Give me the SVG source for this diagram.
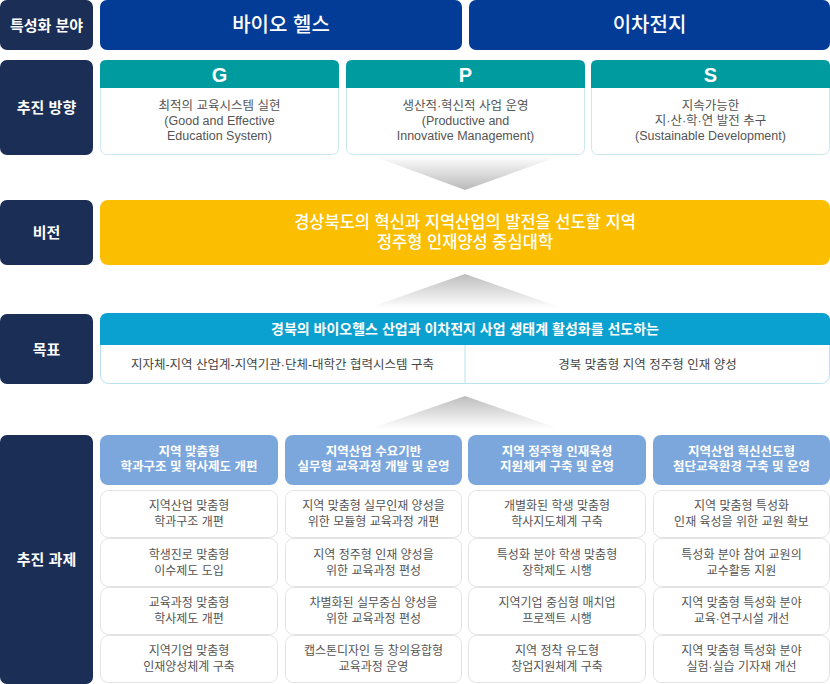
<svg xmlns="http://www.w3.org/2000/svg" width="830" height="684" viewBox="0 0 830 684">
<defs>
<style>
text{font-family:"Liberation Sans","Noto Sans CJK KR",sans-serif;text-anchor:middle;dominant-baseline:central}
.lab{fill:#1b2e56}
.labt{fill:#fff;font-size:15px;font-weight:700}
.band{fill:#023c96}
.bandt{fill:#fff;font-size:20px;font-weight:500}
.teal{fill:#009b9e}
.gbody{fill:#fff;stroke:#cbe9ed;stroke-width:1}
.lett{fill:#fff;font-size:20px;font-weight:700}
.body{fill:#555;font-size:12.5px}
.vis{fill:#fbbe00}
.vist{fill:#fff;font-size:16.5px;font-weight:500}
.goalh{fill:#0aa0cf}
.goalb{fill:#fff;stroke:#b9e1f0;stroke-width:1}
.goalht{fill:#fff;font-size:14px;font-weight:700}
.goalbt{fill:#444;font-size:12.5px}
.th{fill:#7ba7dd}
.tht{fill:#fff;font-size:12.5px;font-weight:700}
.cell{fill:#fff;stroke:#e3e3e3;stroke-width:1}
.ct{fill:#555;font-size:12px}
</style>
<linearGradient id="gDown" x1="0" y1="0" x2="0" y2="1">
<stop offset="0" stop-color="#ffffff"/>
<stop offset="1" stop-color="#b9b9b9"/>
</linearGradient>
<linearGradient id="gUp" x1="0" y1="0" x2="0" y2="1">
<stop offset="0" stop-color="#bdbdbd"/>
<stop offset="1" stop-color="#ffffff"/>
</linearGradient>
</defs>

<g id="connectors">
<polygon points="373,156 560,156 465,190" fill="url(#gDown)"/>
<polygon points="465,274 562,308 368,308" fill="url(#gUp)"/>
<polygon points="465,396 560,429 370,429" fill="url(#gUp)"/>
</g>

<g id="label-field">
<rect class="lab" x="0" y="0" width="93" height="50" rx="7"/>
<text class="labt" x="46.5" y="25">특성화 분야</text>
</g>
<g id="field-bio">
<rect class="band" x="100" y="0" width="362" height="50" rx="7"/>
<text class="bandt" x="281" y="25">바이오 헬스</text>
</g>
<g id="field-battery">
<rect class="band" x="469" y="0" width="361" height="50" rx="7"/>
<text class="bandt" x="649.5" y="25">이차전지</text>
</g>

<g id="label-direction">
<rect class="lab" x="0" y="60" width="93" height="95" rx="7"/>
<text class="labt" x="46.5" y="107.5">추진 방향</text>
</g>
<g id="dir-G">
<rect class="gbody" x="100.5" y="60.5" width="238" height="94" rx="6"/>
<path class="teal" d="M100,88 V66 Q100,60 106,60 H333 Q339,60 339,66 V88 Z"/>
<text class="lett" x="219.5" y="75">G</text>
<text class="body"><tspan x="219.5" y="106">최적의 교육시스템 실현</tspan><tspan x="219.5" y="121">(Good and Effective</tspan><tspan x="219.5" y="136">Education System)</tspan></text>
</g>
<g id="dir-P">
<rect class="gbody" x="346.5" y="60.5" width="238" height="94" rx="6"/>
<path class="teal" d="M346,88 V66 Q346,60 352,60 H579 Q585,60 585,66 V88 Z"/>
<text class="lett" x="465.5" y="75">P</text>
<text class="body"><tspan x="465.5" y="106">생산적·혁신적 사업 운영</tspan><tspan x="465.5" y="121">(Productive and</tspan><tspan x="465.5" y="136">Innovative Management)</tspan></text>
</g>
<g id="dir-S">
<rect class="gbody" x="591.5" y="60.5" width="238" height="94" rx="6"/>
<path class="teal" d="M591,88 V66 Q591,60 597,60 H824 Q830,60 830,66 V88 Z"/>
<text class="lett" x="710.5" y="75">S</text>
<text class="body"><tspan x="710.5" y="106">지속가능한</tspan><tspan x="710.5" y="121">지·산·학·연 발전 추구</tspan><tspan x="710.5" y="136">(Sustainable Development)</tspan></text>
</g>

<g id="label-vision">
<rect class="lab" x="0" y="200" width="93" height="65" rx="7"/>
<text class="labt" x="46.5" y="232.5">비전</text>
</g>
<g id="vision">
<rect class="vis" x="100" y="200" width="730" height="65" rx="8"/>
<text class="vist"><tspan x="465" y="222">경상북도의 혁신과 지역산업의 발전을 선도할 지역</tspan><tspan x="465" y="242">정주형 인재양성 중심대학</tspan></text>
</g>

<g id="label-goal">
<rect class="lab" x="0" y="314" width="93" height="70" rx="7"/>
<text class="labt" x="46.5" y="349">목표</text>
</g>
<g id="goal">
<rect class="goalb" x="100.5" y="313.5" width="729" height="70" rx="8"/>
<path class="goalh" d="M100,345 V321 Q100,313 108,313 H822 Q830,313 830,321 V345 Z"/>
<line x1="465" y1="345" x2="465" y2="384" stroke="#b9e1f0" stroke-width="1"/>
<text class="goalht" x="465" y="329">경북의 바이오헬스 산업과 이차전지 사업 생태계 활성화를 선도하는</text>
<text class="goalbt" x="282.5" y="365">지자체-지역 산업계-지역기관·단체-대학간 협력시스템 구축</text>
<text class="goalbt" x="647.5" y="365">경북 맞춤형 지역 정주형 인재 양성</text>
</g>

<g id="label-tasks">
<rect class="lab" x="0" y="435" width="93" height="249" rx="7"/>
<text class="labt" x="46.5" y="559.5">추진 과제</text>
</g>

<g id="task-1">
<rect class="th" x="100" y="435" width="178" height="50" rx="8"/>
<text class="tht"><tspan x="189" y="452">지역 맞춤형</tspan><tspan x="189" y="467">학과구조 및 학사제도 개편</tspan></text>
<rect class="cell" x="100.5" y="490.5" width="177" height="47" rx="8"/>
<text class="ct"><tspan x="189" y="506">지역산업 맞춤형</tspan><tspan x="189" y="522">학과구조 개편</tspan></text>
<rect class="cell" x="100.5" y="538.5" width="177" height="48" rx="8"/>
<text class="ct"><tspan x="189" y="555">학생진로 맞춤형</tspan><tspan x="189" y="571">이수제도 도입</tspan></text>
<rect class="cell" x="100.5" y="587.5" width="177" height="47" rx="8"/>
<text class="ct"><tspan x="189" y="603">교육과정 맞춤형</tspan><tspan x="189" y="619">학사제도 개편</tspan></text>
<rect class="cell" x="100.5" y="635.5" width="177" height="47" rx="8"/>
<text class="ct"><tspan x="189" y="651">지역기업 맞춤형</tspan><tspan x="189" y="667">인재양성체계 구축</tspan></text>
</g>

<g id="task-2">
<rect class="th" x="285" y="435" width="177" height="50" rx="8"/>
<text class="tht"><tspan x="373.5" y="452">지역산업 수요기반</tspan><tspan x="373.5" y="467">실무형 교육과정 개발 및 운영</tspan></text>
<rect class="cell" x="285.5" y="490.5" width="176" height="47" rx="8"/>
<text class="ct"><tspan x="373.5" y="506">지역 맞춤형 실무인재 양성을</tspan><tspan x="373.5" y="522">위한 모듈형 교육과정 개편</tspan></text>
<rect class="cell" x="285.5" y="538.5" width="176" height="48" rx="8"/>
<text class="ct"><tspan x="373.5" y="555">지역 정주형 인재 양성을</tspan><tspan x="373.5" y="571">위한 교육과정 편성</tspan></text>
<rect class="cell" x="285.5" y="587.5" width="176" height="47" rx="8"/>
<text class="ct"><tspan x="373.5" y="603">차별화된 실무중심 양성을</tspan><tspan x="373.5" y="619">위한 교육과정 편성</tspan></text>
<rect class="cell" x="285.5" y="635.5" width="176" height="47" rx="8"/>
<text class="ct"><tspan x="373.5" y="651">캡스톤디자인 등 창의융합형</tspan><tspan x="373.5" y="667">교육과정 운영</tspan></text>
</g>

<g id="task-3">
<rect class="th" x="468" y="435" width="178" height="50" rx="8"/>
<text class="tht"><tspan x="557" y="452">지역 정주형 인재육성</tspan><tspan x="557" y="467">지원체계 구축 및 운영</tspan></text>
<rect class="cell" x="468.5" y="490.5" width="177" height="47" rx="8"/>
<text class="ct"><tspan x="557" y="506">개별화된 학생 맞춤형</tspan><tspan x="557" y="522">학사지도체계 구축</tspan></text>
<rect class="cell" x="468.5" y="538.5" width="177" height="48" rx="8"/>
<text class="ct"><tspan x="557" y="555">특성화 분야 학생 맞춤형</tspan><tspan x="557" y="571">장학제도 시행</tspan></text>
<rect class="cell" x="468.5" y="587.5" width="177" height="47" rx="8"/>
<text class="ct"><tspan x="557" y="603">지역기업 중심형 매치업</tspan><tspan x="557" y="619">프로젝트 시행</tspan></text>
<rect class="cell" x="468.5" y="635.5" width="177" height="47" rx="8"/>
<text class="ct"><tspan x="557" y="651">지역 정착 유도형</tspan><tspan x="557" y="667">창업지원체계 구축</tspan></text>
</g>

<g id="task-4">
<rect class="th" x="653" y="435" width="177" height="50" rx="8"/>
<text class="tht"><tspan x="741.5" y="452">지역산업 혁신선도형</tspan><tspan x="741.5" y="467">첨단교육환경 구축 및 운영</tspan></text>
<rect class="cell" x="653.5" y="490.5" width="176" height="47" rx="8"/>
<text class="ct"><tspan x="741.5" y="506">지역 맞춤형 특성화</tspan><tspan x="741.5" y="522">인재 육성을 위한 교원 확보</tspan></text>
<rect class="cell" x="653.5" y="538.5" width="176" height="48" rx="8"/>
<text class="ct"><tspan x="741.5" y="555">특성화 분야 참여 교원의</tspan><tspan x="741.5" y="571">교수활동 지원</tspan></text>
<rect class="cell" x="653.5" y="587.5" width="176" height="47" rx="8"/>
<text class="ct"><tspan x="741.5" y="603">지역 맞춤형 특성화 분야</tspan><tspan x="741.5" y="619">교육·연구시설 개선</tspan></text>
<rect class="cell" x="653.5" y="635.5" width="176" height="47" rx="8"/>
<text class="ct"><tspan x="741.5" y="651">지역 맞춤형 특성화 분야</tspan><tspan x="741.5" y="667">실험·실습 기자재 개선</tspan></text>
</g>
</svg>
